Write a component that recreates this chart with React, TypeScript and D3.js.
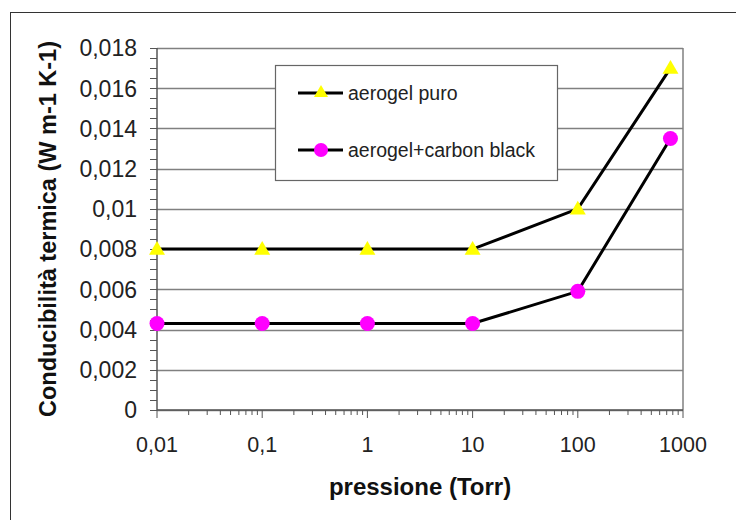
import { useEffect, useRef } from 'react'
import * as d3 from 'd3'

// pressure (Torr)
const pressures = [0.01, 0.1, 1, 10, 100, 760]
const puroValues = [0.008, 0.008, 0.008, 0.008, 0.01, 0.017]
const carbonValues = [0.0043, 0.0043, 0.0043, 0.0043, 0.0059, 0.0135]
const xTicks = [0.01, 0.1, 1, 10, 100, 1000]
const xTickLabels = ['0,01', '0,1', '1', '10', '100', '1000']
const yTicks = [0, 0.002, 0.004, 0.006, 0.008, 0.01, 0.012, 0.014, 0.016, 0.018]
const yTickLabels = ['0', '0,002', '0,004', '0,006', '0,008', '0,01', '0,012', '0,014', '0,016', '0,018']
const seriesNames = ['aerogel puro', 'aerogel+carbon black']

const FONT = '"Liberation Sans", Arial, sans-serif'

export default function App() {
  const svgRef = useRef<SVGSVGElement>(null)

  useEffect(() => {
    const svg = d3.select(svgRef.current)
    svg.selectAll('*').remove()

    const width = 736
    const height = 520
    const margin = { top: 48, right: 53, bottom: 110, left: 157 }
    const innerW = width - margin.left - margin.right
    const innerH = height - margin.top - margin.bottom

    // outer frame
    svg.append('rect')
      .attr('x', 10.5).attr('y', 12.5)
      .attr('width', 740).attr('height', 520)
      .attr('fill', 'none').attr('stroke', '#333').attr('stroke-width', 1)

    const g = svg.append('g').attr('transform', `translate(${margin.left},${margin.top})`)

    const x = d3.scaleLog().domain([0.01, 1000]).range([0, innerW])
    const y = d3.scaleLinear().domain([0, 0.018]).range([innerH, 0])

    // gridlines
    yTicks.forEach(t => {
      g.append('line')
        .attr('x1', 0).attr('x2', innerW)
        .attr('y1', Math.round(y(t)) + 0.5).attr('y2', Math.round(y(t)) + 0.5)
        .attr('stroke', '#808080').attr('stroke-width', 1.3)
    })
    // right border
    g.append('line')
      .attr('x1', innerW).attr('x2', innerW).attr('y1', 0).attr('y2', innerH)
      .attr('stroke', '#808080').attr('stroke-width', 1.5)

    // y axis
    const yMinor = d3.range(0, 0.01801, 0.0005)
    const yAxis = g.append('g')
    yAxis.append('line')
      .attr('x1', 0).attr('x2', 0).attr('y1', 0).attr('y2', innerH)
      .attr('stroke', '#555').attr('stroke-width', 1.5)
    yMinor.forEach(t => {
      yAxis.append('line')
        .attr('x1', -7).attr('x2', 0)
        .attr('y1', Math.round(y(t)) + 0.5).attr('y2', Math.round(y(t)) + 0.5)
        .attr('stroke', '#555').attr('stroke-width', 1)
    })
    yTicks.forEach((t, i) => {
      yAxis.append('text')
        .attr('x', -20).attr('y', y(t)).attr('dy', '0.36em')
        .attr('text-anchor', 'end')
        .attr('font-family', FONT).attr('font-size', 23).attr('fill', '#222')
        .text(yTickLabels[i])
    })

    // x axis
    const xAxis = g.append('g').attr('transform', `translate(0,${innerH})`)
    xAxis.append('line')
      .attr('x1', 0).attr('x2', innerW).attr('y1', 0).attr('y2', 0)
      .attr('stroke', '#555').attr('stroke-width', 1.5)
    const xMinor: number[] = []
    for (let e = -2; e < 3; e++) {
      for (let m = 2; m <= 9; m++) xMinor.push(m * Math.pow(10, e))
    }
    xMinor.forEach(t => {
      xAxis.append('line')
        .attr('x1', x(t)).attr('x2', x(t)).attr('y1', 0).attr('y2', 5)
        .attr('stroke', '#555').attr('stroke-width', 1)
    })
    xTicks.forEach((t, i) => {
      xAxis.append('line')
        .attr('x1', x(t)).attr('x2', x(t)).attr('y1', 0).attr('y2', 8)
        .attr('stroke', '#555').attr('stroke-width', 1)
      xAxis.append('text')
        .attr('x', x(t)).attr('y', 42)
        .attr('text-anchor', 'middle')
        .attr('font-family', FONT).attr('font-size', 21.5).attr('fill', '#222')
        .text(xTickLabels[i])
    })

    // axis titles
    g.append('text')
      .attr('x', innerW / 2).attr('y', innerH + 85)
      .attr('text-anchor', 'middle')
      .attr('font-family', FONT).attr('font-size', 24).attr('font-weight', 'bold').attr('fill', '#111')
      .text('pressione (Torr)')
    g.append('text')
      .attr('transform', `translate(-101,${innerH / 2}) rotate(-90)`)
      .attr('text-anchor', 'middle')
      .attr('font-family', FONT).attr('font-size', 23.5).attr('font-weight', 'bold').attr('fill', '#111')
      .text('Conducibilità termica (W m-1 K-1)')

    const line = d3.line<[number, number]>()
      .x(d => x(d[0]))
      .y(d => y(d[1]))

    const triangle = d3.symbol().type(d3.symbolTriangle).size(110)
    const legendTriangle = d3.symbol().type(d3.symbolTriangle).size(85)

    const puro = pressures.map((p, i) => [p, puroValues[i]] as [number, number])
    const carbon = pressures.map((p, i) => [p, carbonValues[i]] as [number, number])

    g.append('path').datum(carbon).attr('d', line)
      .attr('fill', 'none').attr('stroke', '#000').attr('stroke-width', 3)
    g.append('path').datum(puro).attr('d', line)
      .attr('fill', 'none').attr('stroke', '#000').attr('stroke-width', 3)

    g.selectAll('.tri').data(puro).enter().append('path')
      .attr('transform', d => `translate(${x(d[0])},${y(d[1]) + 1})`)
      .attr('d', triangle)
      .attr('fill', '#ffff00')
    g.selectAll('.dot').data(carbon).enter().append('circle')
      .attr('cx', d => x(d[0])).attr('cy', d => y(d[1]))
      .attr('r', 7.5)
      .attr('fill', '#ff00ff')

    // legend
    const legend = svg.append('g').attr('transform', 'translate(275,65)')
    legend.append('rect')
      .attr('x', 0.5).attr('y', 0.5).attr('width', 282).attr('height', 115)
      .attr('fill', '#fff').attr('stroke', '#666').attr('stroke-width', 1.2)
    seriesNames.forEach((name, i) => {
      const ly = 28 + i * 57
      legend.append('line')
        .attr('x1', 23).attr('x2', 68).attr('y1', ly).attr('y2', ly)
        .attr('stroke', '#000').attr('stroke-width', 3)
      if (i === 0) {
        legend.append('path')
          .attr('transform', `translate(46,${ly})`)
          .attr('d', legendTriangle)
          .attr('fill', '#ffff00')
      } else {
        legend.append('circle')
          .attr('cx', 46).attr('cy', ly).attr('r', 7)
          .attr('fill', '#ff00ff')
      }
      legend.append('text')
        .attr('x', 73).attr('y', ly).attr('dy', '0.34em')
        .attr('font-family', FONT).attr('font-size', 19.5).attr('fill', '#222')
        .text(name)
    })
  }, [])

  return (
    <svg ref={svgRef} width={736} height={520}
      style={{ position: 'absolute', left: 0, top: 0, background: '#fff' }} />
  )
}
